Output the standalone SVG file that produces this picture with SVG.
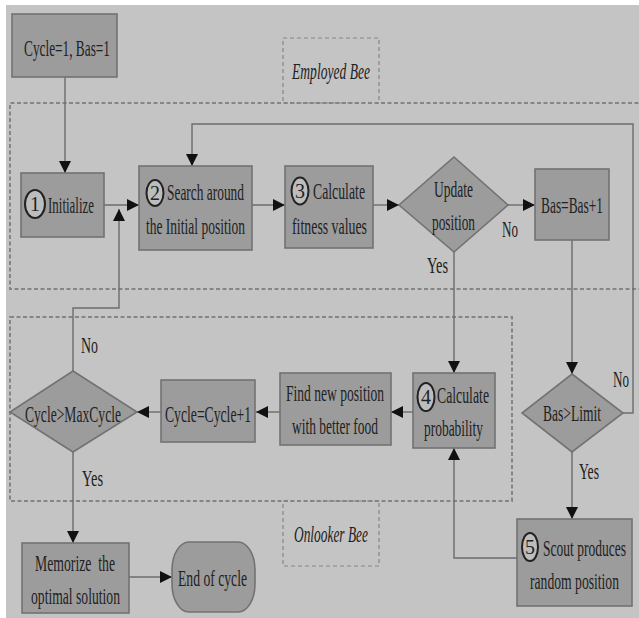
<svg xmlns="http://www.w3.org/2000/svg" width="639" height="618" viewBox="0 0 639 618">
<defs>
<marker id="ah" markerUnits="userSpaceOnUse" markerWidth="13" markerHeight="12" refX="12" refY="6" orient="auto">
<path d="M0,0 L12,6 L0,12 Z" fill="#111"/>
</marker>
<style>
.bg{fill:#c4c4c4}
.box{fill:#9c9c9c;stroke:#727272;stroke-width:1.6}
.t{font-family:"Liberation Serif","Times New Roman",serif;font-size:24px;fill:#222}
.it{font-style:italic}
.num{font-family:"Liberation Serif",serif;font-size:20px;fill:#222;text-anchor:middle}
.circ{fill:#bdbdbd;stroke:#222;stroke-width:2}
.ln{fill:none;stroke:#6c6c6c;stroke-width:1.4}
.arr{fill:none;stroke:#6c6c6c;stroke-width:1.4;marker-end:url(#ah)}
.dash{fill:none;stroke:#858585;stroke-width:2;stroke-dasharray:4 2.5}
.dash2{fill:none;stroke:#858585;stroke-width:1.2;stroke-dasharray:4 3}
</style>
</defs>
<rect x="0" y="0" width="639" height="618" fill="#ffffff"/>
<rect class="bg" x="6" y="5" width="633" height="613"/>

<g id="regions">
<path class="dash" d="M645,103 H10 V289 H645"/>
<rect class="dash2" x="283" y="38" width="96" height="65"/>
<rect class="dash" x="10" y="317" width="502" height="184"/>
<rect class="dash2" x="283" y="501" width="96" height="65"/>
<text class="t it" x="292" y="79" textLength="78" lengthAdjust="spacingAndGlyphs">Employed Bee</text>
<text class="t it" x="294" y="542" textLength="74" lengthAdjust="spacingAndGlyphs">Onlooker Bee</text>
</g>

<g id="connectors">
<path class="arr" d="M65,77 V173"/>
<path class="arr" d="M104,205 H139"/>
<path class="arr" d="M73,371 V308 H119 V209"/>
<path class="arr" d="M252,205 H285"/>
<path class="arr" d="M373,205 H399"/>
<path class="arr" d="M508,205 H535"/>
<path class="arr" d="M572,240 V374"/>
<path class="arr" d="M623,413 H633 V124 H192 V166"/>
<path class="arr" d="M454,252 V373"/>
<path class="arr" d="M413,412 H391"/>
<path class="arr" d="M280,412 H256"/>
<path class="arr" d="M161,412 H137"/>
<path class="arr" d="M73,452 V543"/>
<path class="arr" d="M129,577 H172"/>
<path class="arr" d="M572,452 V519"/>
<path class="arr" d="M517,558 H454 V448"/>
<text class="t" x="502" y="237" textLength="16" lengthAdjust="spacingAndGlyphs">No</text>
<text class="t" x="427" y="273" textLength="21" lengthAdjust="spacingAndGlyphs">Yes</text>
<text class="t" x="613" y="387" textLength="16" lengthAdjust="spacingAndGlyphs">No</text>
<text class="t" x="579" y="479" textLength="20" lengthAdjust="spacingAndGlyphs">Yes</text>
<text class="t" x="81" y="353" textLength="17" lengthAdjust="spacingAndGlyphs">No</text>
<text class="t" x="82" y="486" textLength="21" lengthAdjust="spacingAndGlyphs">Yes</text>
</g>

<g id="start">
<rect class="box" x="12" y="14" width="105" height="63"/>
<text class="t" x="24" y="56" textLength="86" lengthAdjust="spacingAndGlyphs">Cycle=1, Bas=1</text>
</g>

<g id="initialize">
<rect class="box" x="21" y="173" width="83" height="64"/>
<ellipse class="circ" cx="35" cy="204" rx="10" ry="14"/>
<text class="num" x="35" y="211">1</text>
<text class="t" x="48" y="213" textLength="46" lengthAdjust="spacingAndGlyphs">Initialize</text>
</g>

<g id="search">
<rect class="box" x="139" y="166" width="113" height="84"/>
<ellipse class="circ" cx="155" cy="193" rx="8.5" ry="13"/>
<text class="num" x="155" y="200">2</text>
<text class="t" x="167" y="200" textLength="77" lengthAdjust="spacingAndGlyphs">Search around</text>
<text class="t" x="146" y="234" textLength="99" lengthAdjust="spacingAndGlyphs">the Initial position</text>
</g>

<g id="fitness">
<rect class="box" x="285" y="166" width="88" height="82"/>
<ellipse class="circ" cx="300" cy="191" rx="8.5" ry="13.5"/>
<text class="num" x="300" y="198">3</text>
<text class="t" x="313" y="199" textLength="52" lengthAdjust="spacingAndGlyphs">Calculate</text>
<text class="t" x="292" y="234" textLength="75" lengthAdjust="spacingAndGlyphs">fitness values</text>
</g>

<g id="update">
<polygon class="box" points="454,157 508,205 454,252 399,205"/>
<text class="t" x="434" y="197" textLength="39" lengthAdjust="spacingAndGlyphs">Update</text>
<text class="t" x="432" y="230" textLength="43" lengthAdjust="spacingAndGlyphs">position</text>
</g>

<g id="basinc">
<rect class="box" x="535" y="169" width="74" height="71"/>
<text class="t" x="541" y="213" textLength="62" lengthAdjust="spacingAndGlyphs">Bas=Bas+1</text>
</g>

<g id="baslimit">
<polygon class="box" points="572,374 623,413 572,452 522,413"/>
<text class="t" x="543" y="421" textLength="58" lengthAdjust="spacingAndGlyphs">Bas&gt;Limit</text>
</g>

<g id="probability">
<rect class="box" x="413" y="373" width="82" height="75"/>
<ellipse class="circ" cx="426" cy="397" rx="8.5" ry="14"/>
<text class="num" x="426" y="404">4</text>
<text class="t" x="437" y="403" textLength="52" lengthAdjust="spacingAndGlyphs">Calculate</text>
<text class="t" x="424" y="436" textLength="59" lengthAdjust="spacingAndGlyphs">probability</text>
</g>

<g id="findnew">
<rect class="box" x="280" y="373" width="111" height="72"/>
<text class="t" x="286" y="401" textLength="98" lengthAdjust="spacingAndGlyphs">Find new position</text>
<text class="t" x="292" y="434" textLength="86" lengthAdjust="spacingAndGlyphs">with better food</text>
</g>

<g id="cycleinc">
<rect class="box" x="161" y="380" width="94" height="62"/>
<text class="t" x="165" y="422" textLength="86" lengthAdjust="spacingAndGlyphs">Cycle=Cycle+1</text>
</g>

<g id="maxcycle">
<polygon class="box" points="73,371 137,412 73,452 10,412"/>
<text class="t" x="25" y="422" textLength="96" lengthAdjust="spacingAndGlyphs">Cycle&gt;MaxCycle</text>
</g>

<g id="memorize">
<rect class="box" x="22" y="543" width="107" height="70"/>
<text class="t" x="35" y="571" textLength="80" lengthAdjust="spacingAndGlyphs" style="white-space:pre">Memorize  the</text>
<text class="t" x="31" y="604" textLength="89" lengthAdjust="spacingAndGlyphs">optimal solution</text>
</g>

<g id="end">
<rect class="box" x="172" y="542" width="83" height="70" rx="17" ry="28"/>
<text class="t" x="178" y="586" textLength="69" lengthAdjust="spacingAndGlyphs">End of cycle</text>
</g>

<g id="scout">
<rect class="box" x="517" y="519" width="115" height="87"/>
<ellipse class="circ" cx="530" cy="547" rx="8" ry="14"/>
<text class="num" x="530" y="554">5</text>
<text class="t" x="543" y="556" textLength="83" lengthAdjust="spacingAndGlyphs">Scout produces</text>
<text class="t" x="530" y="589" textLength="89" lengthAdjust="spacingAndGlyphs">random position</text>
</g>
</svg>
